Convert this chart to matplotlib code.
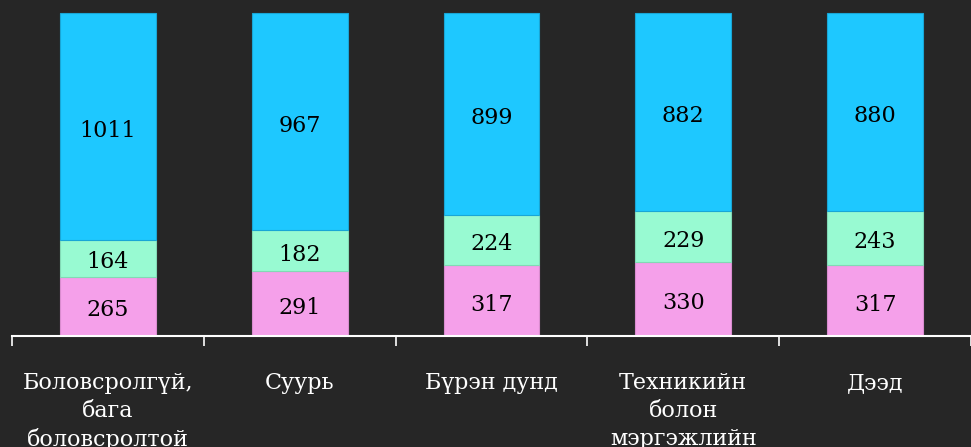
import matplotlib
matplotlib.use("Agg")
import matplotlib.pyplot as plt
import numpy as np

# education level categories
categories = ["Боловсролгүй,\nбага\nболовсролтой", "Суурь", "Бүрэн дунд",
              "Техникийн\nболон\nмэргэжлийн", "Дээд"]
bottom_vals = [265, 291, 317, 330, 317]   # pink
middle_vals = [164, 182, 224, 229, 243]   # mint
top_vals = [1011, 967, 899, 882, 880]     # cyan

bg = "#262626"
plt.rcParams["font.family"] = ["DejaVu Serif"]

fig = plt.figure(figsize=(9.71, 4.47), dpi=100, facecolor=bg)
ax = fig.add_axes([12 / 971, 111 / 447, 959 / 971, 336 / 447])
ax.set_facecolor(bg)

x = np.arange(len(categories))
b1 = np.array(bottom_vals)
b2 = b1 + np.array(middle_vals)

r1 = ax.bar(x, bottom_vals, 0.5, color="#F5A0EA", edgecolor="#d98ccf", linewidth=0.8)
r2 = ax.bar(x, middle_vals, 0.5, bottom=b1, color="#98FAD2", edgecolor="#82d9b5", linewidth=0.8)
r3 = ax.bar(x, top_vals, 0.5, bottom=b2, color="#1EC8FF", edgecolor="#19a6d6", linewidth=0.8)

for rects in (r1, r2, r3):
    for t in ax.bar_label(rects, label_type="center", fontsize=16, color="black"):
        t.set_y(-3)

ax.set_xlim(-0.5, len(categories) - 0.5)
ax.set_ylim(0, 1500)

for s in ["top", "right", "left"]:
    ax.spines[s].set_visible(False)
ax.spines["bottom"].set_color("white")
ax.spines["bottom"].set_linewidth(1.5)

ax.set_yticks([])
ax.set_xticks(np.arange(len(categories) + 1) - 0.5)
ax.set_xticklabels([])
ax.tick_params(axis="x", which="major", length=7, width=1.2, color="white")
ax.set_xticks(x, minor=True)
ax.set_xticklabels(categories, minor=True, fontsize=16, color="white", linespacing=1.35)
ax.tick_params(axis="x", which="minor", length=0, pad=26)

fig.savefig("out.png", dpi=100, facecolor=bg)
